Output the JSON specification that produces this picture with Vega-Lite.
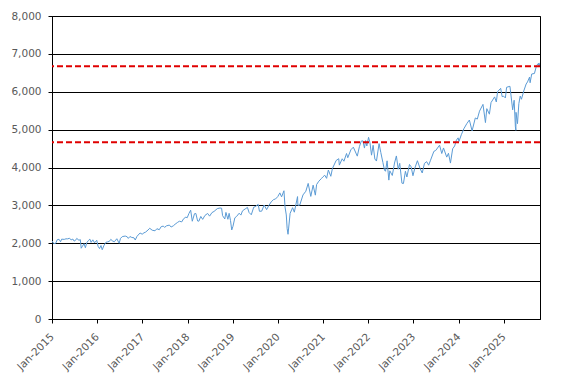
{
  "$schema": "https://vega.github.io/schema/vega-lite/v6.json",
  "autosize": "none",
  "width": 488,
  "height": 303,
  "padding": {"left": 52, "top": 16, "right": 27, "bottom": 64},
  "background": "white",
  "config": {
    "view": {"stroke": "black", "strokeWidth": 1},
    "axis": {"labelFont": "DejaVu Sans", "labelFontSize": 10.5, "labelColor": "#595959", "domainColor": "black", "tickColor": "black", "gridColor": "black", "gridOpacity": 1, "gridWidth": 1, "tickSize": 4, "title": null}
  },
  "datasets": {
    "spx": [
      {"d":"2015-01-02","v":2058},{"d":"2015-01-15","v":1992},{"d":"2015-01-30","v":1995},{"d":"2015-02-13","v":2096},{"d":"2015-02-27","v":2104},{"d":"2015-03-11","v":2040},{"d":"2015-03-20","v":2108},{"d":"2015-04-10","v":2102},{"d":"2015-04-24","v":2117},{"d":"2015-05-08","v":2116},{"d":"2015-05-21","v":2131},{"d":"2015-06-05","v":2092},{"d":"2015-06-19","v":2110},{"d":"2015-06-29","v":2057},{"d":"2015-07-10","v":2077},{"d":"2015-07-20","v":2128},{"d":"2015-08-07","v":2078},{"d":"2015-08-18","v":2096},{"d":"2015-08-25","v":1868},{"d":"2015-09-04","v":1921},{"d":"2015-09-17","v":1990},{"d":"2015-09-28","v":1882},{"d":"2015-10-09","v":2014},{"d":"2015-10-23","v":2075},{"d":"2015-11-03","v":2109},{"d":"2015-11-13","v":2023},{"d":"2015-11-27","v":2090},{"d":"2015-12-11","v":2012},{"d":"2015-12-29","v":2078},
      {"d":"2016-01-08","v":1922},{"d":"2016-01-20","v":1859},{"d":"2016-02-01","v":1940},{"d":"2016-02-11","v":1829},{"d":"2016-02-26","v":1948},{"d":"2016-03-11","v":2022},{"d":"2016-03-24","v":2036},{"d":"2016-04-08","v":2048},{"d":"2016-04-20","v":2102},{"d":"2016-05-06","v":2057},{"d":"2016-05-19","v":2040},{"d":"2016-06-08","v":2119},{"d":"2016-06-27","v":2000},{"d":"2016-07-08","v":2129},{"d":"2016-07-22","v":2175},{"d":"2016-08-15","v":2190},{"d":"2016-08-31","v":2170},{"d":"2016-09-09","v":2128},{"d":"2016-09-22","v":2177},{"d":"2016-10-07","v":2153},{"d":"2016-10-25","v":2143},{"d":"2016-11-04","v":2085},{"d":"2016-11-18","v":2182},{"d":"2016-12-13","v":2271},{"d":"2016-12-30","v":2239},
      {"d":"2017-01-13","v":2274},{"d":"2017-01-27","v":2295},{"d":"2017-02-15","v":2349},{"d":"2017-03-01","v":2396},{"d":"2017-03-21","v":2344},{"d":"2017-04-13","v":2329},{"d":"2017-04-28","v":2384},{"d":"2017-05-17","v":2357},{"d":"2017-06-02","v":2439},{"d":"2017-06-19","v":2453},{"d":"2017-06-29","v":2419},{"d":"2017-07-14","v":2459},{"d":"2017-08-07","v":2480},{"d":"2017-08-21","v":2428},{"d":"2017-09-08","v":2461},{"d":"2017-09-22","v":2502},{"d":"2017-10-13","v":2553},{"d":"2017-10-27","v":2581},{"d":"2017-11-15","v":2564},{"d":"2017-11-30","v":2648},{"d":"2017-12-18","v":2690},{"d":"2017-12-29","v":2674},
      {"d":"2018-01-12","v":2786},{"d":"2018-01-26","v":2873},{"d":"2018-02-08","v":2581},{"d":"2018-02-26","v":2780},{"d":"2018-03-09","v":2786},{"d":"2018-03-23","v":2588},{"d":"2018-04-02","v":2582},{"d":"2018-04-18","v":2708},{"d":"2018-05-03","v":2630},{"d":"2018-05-21","v":2733},{"d":"2018-06-12","v":2787},{"d":"2018-06-28","v":2716},{"d":"2018-07-17","v":2809},{"d":"2018-08-03","v":2840},{"d":"2018-08-29","v":2914},{"d":"2018-09-20","v":2931},{"d":"2018-10-03","v":2925},{"d":"2018-10-11","v":2728},{"d":"2018-10-29","v":2641},{"d":"2018-11-07","v":2814},{"d":"2018-11-23","v":2633},{"d":"2018-12-03","v":2790},{"d":"2018-12-14","v":2600},{"d":"2018-12-24","v":2351},
      {"d":"2019-01-03","v":2448},{"d":"2019-01-18","v":2671},{"d":"2019-02-01","v":2707},{"d":"2019-02-22","v":2793},{"d":"2019-03-08","v":2743},{"d":"2019-03-21","v":2855},{"d":"2019-04-12","v":2907},{"d":"2019-04-30","v":2946},{"d":"2019-05-13","v":2812},{"d":"2019-05-31","v":2752},{"d":"2019-06-20","v":2954},{"d":"2019-07-01","v":2964},{"d":"2019-07-26","v":3026},{"d":"2019-08-05","v":2844},{"d":"2019-08-23","v":2847},{"d":"2019-09-12","v":3009},{"d":"2019-10-02","v":2888},{"d":"2019-10-18","v":2986},{"d":"2019-11-08","v":3093},{"d":"2019-11-27","v":3153},{"d":"2019-12-13","v":3169},{"d":"2019-12-31","v":3231},
      {"d":"2020-01-17","v":3330},{"d":"2020-01-31","v":3225},{"d":"2020-02-19","v":3386},{"d":"2020-02-28","v":2954},{"d":"2020-03-09","v":2747},{"d":"2020-03-16","v":2386},{"d":"2020-03-23","v":2237},{"d":"2020-04-09","v":2790},{"d":"2020-04-29","v":2939},{"d":"2020-05-13","v":2820},{"d":"2020-06-08","v":3232},{"d":"2020-06-11","v":3002},{"d":"2020-06-26","v":3009},{"d":"2020-07-22","v":3276},{"d":"2020-08-14","v":3373},{"d":"2020-09-02","v":3580},{"d":"2020-09-23","v":3237},{"d":"2020-10-12","v":3534},{"d":"2020-10-30","v":3270},{"d":"2020-11-09","v":3550},{"d":"2020-11-27","v":3638},{"d":"2020-12-18","v":3709},{"d":"2020-12-31","v":3756},
      {"d":"2021-01-14","v":3795},{"d":"2021-01-29","v":3714},{"d":"2021-02-12","v":3934},{"d":"2021-03-04","v":3768},{"d":"2021-03-17","v":3974},{"d":"2021-04-16","v":4185},{"d":"2021-05-07","v":4232},{"d":"2021-05-12","v":4063},{"d":"2021-06-04","v":4230},{"d":"2021-06-18","v":4166},{"d":"2021-07-09","v":4370},{"d":"2021-07-19","v":4258},{"d":"2021-08-13","v":4468},{"d":"2021-09-02","v":4537},{"d":"2021-10-04","v":4300},{"d":"2021-10-21","v":4549},{"d":"2021-11-05","v":4697},{"d":"2021-11-18","v":4704},{"d":"2021-12-01","v":4513},{"d":"2021-12-10","v":4712},{"d":"2021-12-20","v":4568},
      {"d":"2022-01-03","v":4796},{"d":"2022-01-14","v":4662},{"d":"2022-01-27","v":4326},{"d":"2022-02-09","v":4587},{"d":"2022-02-23","v":4225},{"d":"2022-03-08","v":4170},{"d":"2022-03-29","v":4631},{"d":"2022-04-12","v":4397},{"d":"2022-04-29","v":4132},{"d":"2022-05-12","v":3930},{"d":"2022-05-20","v":3901},{"d":"2022-06-02","v":4176},{"d":"2022-06-16","v":3667},{"d":"2022-06-24","v":3912},{"d":"2022-07-14","v":3790},{"d":"2022-08-01","v":4118},{"d":"2022-08-16","v":4305},{"d":"2022-08-31","v":3955},{"d":"2022-09-12","v":4110},{"d":"2022-09-30","v":3586},{"d":"2022-10-12","v":3577},{"d":"2022-10-28","v":3901},{"d":"2022-11-09","v":3749},{"d":"2022-11-30","v":4080},{"d":"2022-12-13","v":4019},{"d":"2022-12-28","v":3783},
      {"d":"2023-01-12","v":3983},{"d":"2023-02-02","v":4179},{"d":"2023-02-24","v":3970},{"d":"2023-03-13","v":3855},{"d":"2023-03-31","v":4109},{"d":"2023-04-18","v":4154},{"d":"2023-05-04","v":4061},{"d":"2023-05-19","v":4191},{"d":"2023-06-15","v":4426},{"d":"2023-06-30","v":4450},{"d":"2023-07-31","v":4589},{"d":"2023-08-18","v":4369},{"d":"2023-09-01","v":4516},{"d":"2023-09-27","v":4274},{"d":"2023-10-11","v":4376},{"d":"2023-10-27","v":4117},{"d":"2023-11-14","v":4495},{"d":"2023-11-30","v":4568},{"d":"2023-12-14","v":4720},{"d":"2023-12-28","v":4783},
      {"d":"2024-01-04","v":4688},{"d":"2024-01-23","v":4865},{"d":"2024-02-12","v":5021},{"d":"2024-03-07","v":5157},{"d":"2024-03-28","v":5254},{"d":"2024-04-19","v":4967},{"d":"2024-05-15","v":5308},{"d":"2024-05-31","v":5278},{"d":"2024-06-18","v":5487},{"d":"2024-07-16","v":5667},{"d":"2024-08-05","v":5186},{"d":"2024-08-16","v":5554},{"d":"2024-09-06","v":5408},{"d":"2024-09-19","v":5713},{"d":"2024-10-18","v":5864},{"d":"2024-11-01","v":5729},{"d":"2024-11-11","v":6001},{"d":"2024-12-06","v":6090},{"d":"2024-12-18","v":5872},{"d":"2024-12-31","v":5882},
      {"d":"2025-01-13","v":5836},{"d":"2025-01-23","v":6118},{"d":"2025-02-19","v":6144},{"d":"2025-03-13","v":5522},{"d":"2025-03-25","v":5776},{"d":"2025-04-04","v":5074},{"d":"2025-04-08","v":4982},{"d":"2025-04-09","v":5457},{"d":"2025-04-21","v":5158},{"d":"2025-05-02","v":5687},{"d":"2025-05-13","v":5886},{"d":"2025-05-23","v":5802},{"d":"2025-06-11","v":6022},{"d":"2025-06-30","v":6205},{"d":"2025-07-11","v":6259},{"d":"2025-07-28","v":6389},{"d":"2025-08-01","v":6238},{"d":"2025-08-14","v":6469},{"d":"2025-09-05","v":6482},{"d":"2025-09-22","v":6693},{"d":"2025-10-08","v":6753},{"d":"2025-10-10","v":6653},{"d":"2025-10-20","v":6765}
    ],
    "levels": [{"level": 6670}, {"level": 4669}]
  },
  "layer": [
    {
      "data": {"name": "spx"},
      "mark": {"type": "line", "color": "#5b9bd5", "strokeWidth": 1, "clip": true},
      "encoding": {
        "x": {"field": "d", "type": "temporal",
          "scale": {"domain": [{"year": 2015, "month": 1, "date": 1}, {"year": 2025, "month": 10, "date": 20}]},
          "axis": {"format": "%b-%Y", "tickCount": {"interval": "year", "step": 1}, "labelAngle": -45, "labelAlign": "right", "labelBaseline": "middle", "grid": false, "labelPadding": 12, "labelFlush": false, "labelOverlap": false}},
        "y": {"field": "v", "type": "quantitative",
          "scale": {"domain": [0, 8000], "nice": false},
          "axis": {"values": [0,1000,2000,3000,4000,5000,6000,7000,8000], "format": ",.0f", "grid": true, "labelPadding": 7}}
      }
    },
    {
      "data": {"name": "levels"},
      "mark": {"type": "rule", "color": "#e00000", "strokeWidth": 2, "strokeDash": [6, 3]},
      "encoding": {"y": {"field": "level", "type": "quantitative",
          "scale": {"domain": [0, 8000], "nice": false},
          "axis": {"values": [0,1000,2000,3000,4000,5000,6000,7000,8000], "format": ",.0f", "grid": true, "labelPadding": 7}}}
    }
  ]
}
